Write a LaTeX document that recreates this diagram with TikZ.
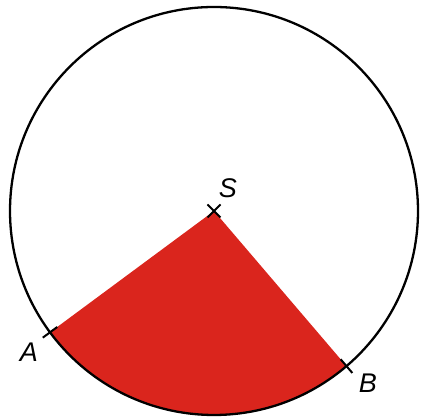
\documentclass[tikz,border=0pt]{standalone}
\usepackage{fontspec}
\setmainfont{Liberation Sans}
\definecolor{sred}{HTML}{DA251D}
\tikzset{
  lbl/.style={font=\fontsize{27}{27}\selectfont\itshape, inner sep=0pt},
  tickline/.style={line width=2pt}
}
\begin{document}
\begin{tikzpicture}[x=1pt,y=1pt]
\useasboundingbox (0,0) rectangle (421,419);
\coordinate (S) at (214,208);
\path (S) ++(216.5:204) coordinate (A);
\path (S) ++(310.5:204) coordinate (B);
\fill[sred] (S) -- (A) arc[start angle=216.5, end angle=310.5, radius=204] -- cycle;
\draw[line width=2.3pt] (S) circle[radius=204];
% cross at S
\draw[tickline] (S) ++(-6.5,-6.5) -- ++(13,13);
\draw[tickline] (S) ++(-6.5,6.5) -- ++(13,-13);
% radial ticks at A and B
\draw[tickline] (S) ++(216.5:195) -- ++(216.5:18);
\draw[tickline] (S) ++(310.5:195) -- ++(310.5:18);
\node[lbl] (lS) at (228,231) {S};
\node[lbl] (lA) at (29,67) {A};
\node[lbl] (lB) at (368,36) {B};
\end{tikzpicture}
\end{document}
